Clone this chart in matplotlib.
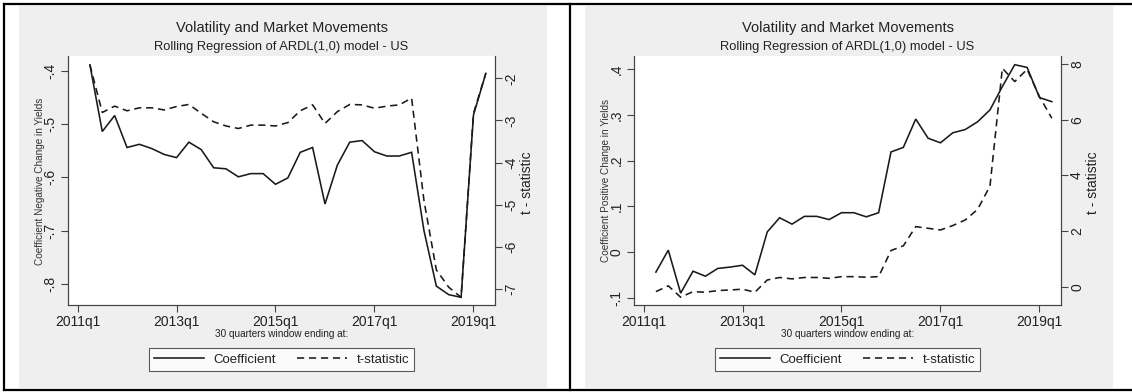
import numpy as np
import matplotlib
matplotlib.use('Agg')
import matplotlib.pyplot as plt
from matplotlib.patches import Rectangle
from matplotlib.lines import Line2D

plt.rcParams['font.family'] = ['Liberation Sans', 'DejaVu Sans']

# Datos: ventanas de 30 trimestres que terminan en 2011q2 ... 2019q2
start_year, start_q = 2011, 2
tick_labels = ['2011q1', '2013q1', '2015q1', '2017q1', '2019q1']

coef_neg = [-0.389, -0.514, -0.484, -0.544, -0.538, -0.546, -0.557, -0.563, -0.534,
            -0.548, -0.582, -0.584, -0.599, -0.593, -0.593, -0.613, -0.601, -0.553,
            -0.544, -0.650, -0.577, -0.534, -0.531, -0.552, -0.560, -0.560, -0.553,
            -0.700, -0.804, -0.820, -0.825, -0.483, -0.405]
t_neg = [-1.68, -2.81, -2.66, -2.77, -2.70, -2.70, -2.75, -2.67, -2.62, -2.83, -3.03,
         -3.13, -3.19, -3.11, -3.11, -3.13, -3.05, -2.77, -2.63, -3.07, -2.79, -2.62,
         -2.63, -2.71, -2.66, -2.63, -2.47, -4.90, -6.54, -6.95, -7.19, -2.83, -1.88]

coef_pos = [-0.044, 0.004, -0.090, -0.042, -0.053, -0.036, -0.033, -0.029, -0.050,
            0.044, 0.075, 0.061, 0.078, 0.078, 0.071, 0.086, 0.086, 0.077, 0.086,
            0.219, 0.229, 0.291, 0.249, 0.239, 0.261, 0.268, 0.285, 0.311, 0.362,
            0.410, 0.404, 0.338, 0.329]
t_pos = [-0.18, 0.03, -0.38, -0.18, -0.20, -0.14, -0.12, -0.09, -0.20, 0.24, 0.33,
         0.28, 0.33, 0.33, 0.30, 0.36, 0.36, 0.34, 0.36, 1.30, 1.47, 2.16, 2.10, 2.04,
         2.20, 2.40, 2.78, 3.62, 7.86, 7.38, 7.82, 6.84, 6.06]


def qindex(label):
    y, q = label.split('q')
    return (int(y) - 2011) * 4 + int(q) - 1


x0 = qindex(f'{start_year}q{start_q}')
x = np.arange(x0, x0 + len(coef_neg))
xticks = [qindex(l) for l in tick_labels]

W, H = 1132, 392
fig = plt.figure(figsize=(W / 100, H / 100), dpi=100)
fig.patch.set_facecolor('white')

ink = '#1a1a1a'
txt = '#222222'


def fx(px):
    return px / W


def fy(py):
    return 1 - py / H


def panel(off, coef, tstat, ylab, lticks, llabels, llim, rticks, rlim):
    # fondo gris del panel
    fig.add_artist(Rectangle((fx(off + 19), fy(388)), fx(528), 382 / H,
                             transform=fig.transFigure, facecolor='#efefef',
                             edgecolor='none', zorder=0))
    ax = fig.add_axes([fx(off + 68), fy(305), fx(427), 249 / H])
    ax.set_facecolor('white')
    l1, = ax.plot(x, coef, color=ink, lw=1.15, solid_joinstyle='miter')
    ax.set_xlim(-0.77, 33.74)
    ax.set_ylim(*llim)
    ax.set_xticks(xticks)
    ax.set_xticklabels(tick_labels, fontsize=10, color=txt)
    ax.set_yticks(lticks)
    ax.set_yticklabels(llabels, fontsize=10, color=txt, rotation=90, va='center')
    ax.spines['top'].set_visible(False)
    for s in ['left', 'bottom', 'right']:
        ax.spines[s].set_color('#444444')
        ax.spines[s].set_linewidth(0.8)
    ax.tick_params(length=5, width=0.8, color='#444444', pad=2.5)

    ax2 = ax.twinx()
    l2, = ax2.plot(x, tstat, color=ink, lw=1.15, linestyle=(0, (4.5, 3)))
    ax2.set_ylim(*rlim)
    ax2.set_yticks(rticks)
    ax2.set_yticklabels([str(v) for v in rticks], fontsize=10, color=txt,
                        rotation=90, va='center')
    ax2.spines['top'].set_visible(False)
    for s in ['left', 'bottom', 'right']:
        ax2.spines[s].set_color('#444444')
        ax2.spines[s].set_linewidth(0.8)
    ax2.tick_params(length=5, width=0.8, color='#444444', pad=1.5)

    cx = off + 281.5
    fig.text(fx(cx), fy(28), 'Volatility and Market Movements', ha='center',
             va='center', fontsize=10.5, color=txt)
    fig.text(fx(cx), fy(47), 'Rolling Regression of ARDL(1,0) model - US',
             ha='center', va='center', fontsize=9.3, color=txt)
    fig.text(fx(cx), fy(334), '30 quarters window ending at:', ha='center',
             va='center', fontsize=7.2, color=txt)
    fig.text(fx(off + 40), fy(181), ylab, rotation=90, ha='center', va='center',
             fontsize=7.2, color='#333333')
    fig.text(fx(off + 527), fy(183), 't - statistic', rotation=90, ha='center',
             va='center', fontsize=10, color=txt)

    leg = fig.legend([l1, l2], ['Coefficient', 't-statistic'], loc='center',
                     bbox_to_anchor=(fx(cx), fy(359.5)), ncol=2, fontsize=9.5,
                     frameon=True, fancybox=False, handlelength=3.8,
                     handletextpad=0.7, columnspacing=1.6, borderpad=0.38,
                     edgecolor='#333333')
    leg.get_frame().set_linewidth(0.8)
    for t in leg.get_texts():
        t.set_color(txt)


panel(0, coef_neg, t_neg, 'Coefficient Negative Change in Yields',
      [-0.8, -0.7, -0.6, -0.5, -0.4], ['-.8', '-.7', '-.6', '-.5', '-.4'],
      (-0.8394, -0.3724), [-7, -6, -5, -4, -3, -2], (-7.372, -1.472))
panel(566, coef_pos, t_pos, 'Coefficient Positive Change in Yields',
      [-0.1, 0, 0.1, 0.2, 0.3, 0.4], ['-.1', '0', '.1', '.2', '.3', '.4'],
      (-0.116, 0.429), [0, 2, 4, 6, 8], (-0.66, 8.30))

# marco negro exterior y divisor
for (xa, ya, xb, yb) in [(4, 4, 1131, 4), (4, 390, 1131, 390), (4, 4, 4, 390),
                         (570, 4, 570, 390)]:
    fig.add_artist(Line2D([fx(xa), fx(xb)], [fy(ya), fy(yb)],
                          transform=fig.transFigure, color='black', lw=1.6))

plt.savefig('out.png', dpi=100)
